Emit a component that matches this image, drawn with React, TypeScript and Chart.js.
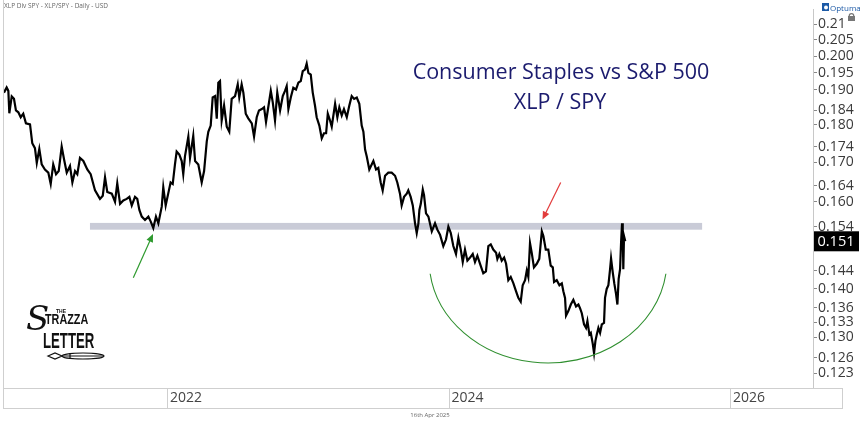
import React, { useEffect, useRef } from 'react';
import { Chart, registerables } from 'chart.js';

Chart.register(...registerables);

// decimal year of each observation
const years: number[] = [
  2020.841, 2020.860, 2020.872, 2020.879, 2020.896, 2020.912, 2020.926, 2020.943, 2020.960, 2020.978,
  2020.997, 2021.026, 2021.042, 2021.061, 2021.074, 2021.092, 2021.109, 2021.132, 2021.156, 2021.173,
  2021.191, 2021.211, 2021.230, 2021.251, 2021.268, 2021.287, 2021.310, 2021.327, 2021.346, 2021.362,
  2021.381, 2021.405, 2021.433, 2021.457, 2021.488, 2021.523, 2021.543, 2021.559, 2021.575, 2021.607,
  2021.630, 2021.646, 2021.666, 2021.689, 2021.713, 2021.732, 2021.749, 2021.772, 2021.788, 2021.803,
  2021.820, 2021.843, 2021.867, 2021.884, 2021.902, 2021.921, 2021.938, 2021.962, 2021.973, 2021.990,
  2022.008, 2022.025, 2022.040, 2022.056, 2022.068, 2022.087, 2022.104, 2022.115, 2022.127, 2022.151,
  2022.163, 2022.186, 2022.199, 2022.222, 2022.246, 2022.263, 2022.282, 2022.293, 2022.310, 2022.324,
  2022.341, 2022.353, 2022.364, 2022.376, 2022.388, 2022.405, 2022.424, 2022.442, 2022.459, 2022.483,
  2022.502, 2022.513, 2022.530, 2022.542, 2022.559, 2022.577, 2022.602, 2022.618, 2022.637, 2022.653,
  2022.673, 2022.689, 2022.703, 2022.719, 2022.737, 2022.751, 2022.767, 2022.783, 2022.803, 2022.822,
  2022.838, 2022.850, 2022.862, 2022.879, 2022.897, 2022.916, 2022.933, 2022.950, 2022.964, 2022.980,
  2022.992, 2023.004, 2023.021, 2023.035, 2023.051, 2023.063, 2023.082, 2023.099, 2023.115, 2023.130,
  2023.142, 2023.158, 2023.170, 2023.194, 2023.210, 2023.224, 2023.241, 2023.257, 2023.277, 2023.295,
  2023.312, 2023.329, 2023.348, 2023.366, 2023.383, 2023.395, 2023.407, 2023.419, 2023.437, 2023.454,
  2023.466, 2023.485, 2023.501, 2023.518, 2023.532, 2023.549, 2023.572, 2023.596, 2023.620, 2023.636,
  2023.655, 2023.667, 2023.684, 2023.703, 2023.714, 2023.731, 2023.746, 2023.762, 2023.774, 2023.786,
  2023.793, 2023.803, 2023.817, 2023.826, 2023.840, 2023.857, 2023.881, 2023.904, 2023.921, 2023.940,
  2023.963, 2023.982, 2023.999, 2024.016, 2024.034, 2024.053, 2024.070, 2024.087, 2024.101, 2024.117,
  2024.134, 2024.153, 2024.172, 2024.188, 2024.205, 2024.224, 2024.247, 2024.266, 2024.283, 2024.300,
  2024.318, 2024.338, 2024.347, 2024.361, 2024.378, 2024.395, 2024.409, 2024.425, 2024.442, 2024.461,
  2024.480, 2024.496, 2024.513, 2024.527, 2024.544, 2024.556, 2024.567, 2024.579, 2024.591, 2024.607,
  2024.627, 2024.645, 2024.663, 2024.674, 2024.691, 2024.709, 2024.726, 2024.741, 2024.750, 2024.769,
  2024.788, 2024.805, 2024.816, 2024.828, 2024.835, 2024.852, 2024.869, 2024.887, 2024.906, 2024.923,
  2024.935, 2024.947, 2024.963, 2024.977, 2024.987, 2025.001, 2025.011, 2025.025, 2025.034, 2025.044,
  2025.054, 2025.065, 2025.077, 2025.089, 2025.105, 2025.112, 2025.124, 2025.136, 2025.148, 2025.155,
  2025.167, 2025.178, 2025.190, 2025.200, 2025.209, 2025.219, 2025.226, 2025.233, 2025.238, 2025.242,
  2025.247, 2025.256,
];

// XLP / SPY ratio
const ratio: number[] = [
  0.1891, 0.1906, 0.1896, 0.1832, 0.1880, 0.1873, 0.1840, 0.1835, 0.1821, 0.1831,
  0.1804, 0.1801, 0.1750, 0.1737, 0.1698, 0.1735, 0.1694, 0.1681, 0.1673, 0.1644,
  0.1694, 0.1669, 0.1677, 0.1741, 0.1707, 0.1673, 0.1690, 0.1648, 0.1677, 0.1669,
  0.1711, 0.1703, 0.1681, 0.1669, 0.1628, 0.1607, 0.1615, 0.1661, 0.1624, 0.1620,
  0.1600, 0.1646, 0.1595, 0.1603, 0.1607, 0.1612, 0.1591, 0.1612, 0.1607, 0.1580,
  0.1564, 0.1556, 0.1564, 0.1552, 0.1537, 0.1564, 0.1548, 0.1588, 0.1636, 0.1591,
  0.1620, 0.1648, 0.1644, 0.1694, 0.1728, 0.1720, 0.1703, 0.1669, 0.1715, 0.1768,
  0.1711, 0.1770, 0.1703, 0.1694, 0.1648, 0.1677, 0.1755, 0.1781, 0.1798, 0.1877,
  0.1881, 0.1817, 0.1920, 0.1925, 0.1812, 0.1854, 0.1795, 0.1781, 0.1873, 0.1881,
  0.1915, 0.1877, 0.1915, 0.1891, 0.1831, 0.1818, 0.1804, 0.1768, 0.1821, 0.1840,
  0.1844, 0.1849, 0.1808, 0.1849, 0.1896, 0.1863, 0.1812, 0.1891, 0.1840, 0.1881,
  0.1896, 0.1910, 0.1844, 0.1877, 0.1905, 0.1900, 0.1920, 0.1925, 0.1954, 0.1959,
  0.1977, 0.1949, 0.1944, 0.1891, 0.1854, 0.1821, 0.1798, 0.1763, 0.1777, 0.1777,
  0.1831, 0.1812, 0.1795, 0.1859, 0.1821, 0.1849, 0.1826, 0.1844, 0.1821, 0.1854,
  0.1881, 0.1873, 0.1877, 0.1859, 0.1798, 0.1781, 0.1733, 0.1715, 0.1681, 0.1694,
  0.1703, 0.1681, 0.1685, 0.1648, 0.1628, 0.1665, 0.1673, 0.1673, 0.1665, 0.1648,
  0.1620, 0.1591, 0.1612, 0.1620, 0.1628, 0.1612, 0.1591, 0.1548, 0.1525, 0.1548,
  0.1580, 0.1595, 0.1630, 0.1616, 0.1572, 0.1564, 0.1529, 0.1548, 0.1533, 0.1521,
  0.1495, 0.1510, 0.1540, 0.1525, 0.1495, 0.1477, 0.1514, 0.1487, 0.1459, 0.1487,
  0.1462, 0.1469, 0.1477, 0.1459, 0.1473, 0.1455, 0.1434, 0.1438, 0.1495, 0.1499,
  0.1487, 0.1480, 0.1466, 0.1477, 0.1462, 0.1469, 0.1455, 0.1419, 0.1426, 0.1412,
  0.1395, 0.1381, 0.1373, 0.1408, 0.1419, 0.1440, 0.1426, 0.1502, 0.1480, 0.1447,
  0.1455, 0.1466, 0.1529, 0.1518, 0.1487, 0.1487, 0.1451, 0.1447, 0.1415, 0.1419,
  0.1408, 0.1412, 0.1395, 0.1381, 0.1344, 0.1354, 0.1367, 0.1377, 0.1363, 0.1367,
  0.1359, 0.1349, 0.1326, 0.1319, 0.1333, 0.1306, 0.1309, 0.1287, 0.1269, 0.1293,
  0.1306, 0.1319, 0.1309, 0.1326, 0.1329, 0.1381, 0.1400, 0.1408, 0.1443, 0.1467,
  0.1436, 0.1412, 0.1390, 0.1367, 0.1422, 0.1443, 0.1502, 0.1548, 0.1533, 0.1443,
  0.1518, 0.1506,
];

const yTickLabels: string[] = [
  '0.21', '0.205', '0.200', '0.195', '0.190', '0.184', '0.180', '0.174', '0.170',
  '0.164', '0.160', '0.154', '0.144', '0.140', '0.136', '0.133', '0.130', '0.126', '0.123',
];
const xTickYears: number[] = [2022, 2024, 2026];
const lastPriceLabel = '0.151';

const xMin = 2020.834;
const xMax = 2026.59;
const yMin = 0.1203;
const yMax = 0.2148;

// support band
const bandYears: number[] = [2021.452, 2025.802];
const bandValues: number[] = [0.1533, 0.1549];
// arrows: [fromYear, fromValue, toYear, toValue]
const greenArrow: number[] = [2021.760, 0.1424, 2021.900, 0.1523];
const redArrow: number[] = [2024.797, 0.1648, 2024.668, 0.1557];
// rounding-bottom arc
const arcCenter: number[] = [2024.707, 0.1463];
const arcHalfWidthYears = 0.845;
const arcBottomValue = 0.1250;
const arcEndValue = 0.1433;

const titleLines: string[] = ['Consumer Staples vs S&P 500', 'XLP / SPY'];
const headerText = 'XLP Div SPY - XLP/SPY - Daily - USD';
const footerText = '16th Apr 2025';

function drawArrow(ctx: CanvasRenderingContext2D, x0: number, y0: number, x1: number, y1: number, color: string) {
  const ang = Math.atan2(y1 - y0, x1 - x0);
  const hl = 8, hw = 3.5;
  ctx.save();
  ctx.strokeStyle = color;
  ctx.fillStyle = color;
  ctx.lineWidth = 1.2;
  ctx.beginPath();
  ctx.moveTo(x0, y0);
  ctx.lineTo(x1 - Math.cos(ang) * hl * 0.8, y1 - Math.sin(ang) * hl * 0.8);
  ctx.stroke();
  ctx.beginPath();
  ctx.moveTo(x1, y1);
  ctx.lineTo(x1 - Math.cos(ang) * hl - Math.sin(ang) * hw, y1 - Math.sin(ang) * hl + Math.cos(ang) * hw);
  ctx.lineTo(x1 - Math.cos(ang) * hl + Math.sin(ang) * hw, y1 - Math.sin(ang) * hl - Math.cos(ang) * hw);
  ctx.closePath();
  ctx.fill();
  ctx.restore();
}

const overlayPlugin = {
  id: 'overlay',
  beforeDatasetsDraw(chart: any) {
    const { ctx, scales } = chart;
    const x = scales.x, y = scales.y;
    const x0 = x.getPixelForValue(bandYears[0]);
    const x1 = x.getPixelForValue(bandYears[1]);
    const yTop = y.getPixelForValue(bandValues[1]);
    const yBot = y.getPixelForValue(bandValues[0]);
    ctx.save();
    ctx.fillStyle = '#c9cbd7';
    ctx.fillRect(x0, yTop, x1 - x0, yBot - yTop);
    ctx.restore();
  },
  afterDraw(chart: any) {
    const { ctx, chartArea, scales } = chart;
    const x = scales.x, y = scales.y;
    ctx.save();

    // frame lines
    ctx.strokeStyle = '#cfcfcf';
    ctx.lineWidth = 1;
    ctx.beginPath();
    ctx.moveTo(chartArea.left + 0.5, 0);
    ctx.lineTo(chartArea.left + 0.5, chartArea.bottom);
    ctx.stroke();
    ctx.strokeRect(chartArea.left + 0.5, chartArea.bottom + 0.5, 839, 20);
    xTickYears.forEach((v) => {
      const px = Math.round(x.getPixelForValue(v)) + 0.5;
      ctx.beginPath();
      ctx.moveTo(px, chartArea.bottom);
      ctx.lineTo(px, chartArea.bottom + 20);
      ctx.stroke();
    });

    // arc
    const cx = x.getPixelForValue(arcCenter[0]);
    const cy = y.getPixelForValue(arcCenter[1]);
    const rx = x.getPixelForValue(arcCenter[0] + arcHalfWidthYears) - cx;
    const ry = y.getPixelForValue(arcBottomValue) - cy;
    const endY = y.getPixelForValue(arcEndValue);
    const a = Math.asin(Math.max(-1, Math.min(1, (endY - cy) / ry)));
    ctx.strokeStyle = '#2f8f2f';
    ctx.lineWidth = 1.1;
    ctx.beginPath();
    ctx.ellipse(cx, cy, rx, ry, 0, a, Math.PI - a, false);
    ctx.stroke();

    // arrows
    drawArrow(ctx, x.getPixelForValue(greenArrow[0]), y.getPixelForValue(greenArrow[1]),
      x.getPixelForValue(greenArrow[2]), y.getPixelForValue(greenArrow[3]), '#2e9a2e');
    drawArrow(ctx, x.getPixelForValue(redArrow[0]), y.getPixelForValue(redArrow[1]),
      x.getPixelForValue(redArrow[2]), y.getPixelForValue(redArrow[3]), '#e23b3b');

    // title
    ctx.fillStyle = '#1b1b6e';
    ctx.textAlign = 'center';
    ctx.textBaseline = 'alphabetic';
    ctx.font = '21.5px "Open Sans"';
    ctx.fillText(titleLines[0], 561, 79);
    ctx.fillText(titleLines[1], 560, 109);

    // header + footer
    ctx.fillStyle = '#666';
    ctx.textAlign = 'left';
    ctx.font = '6.5px "Open Sans"';
    ctx.fillText(headerText, 4, 8);
    ctx.textAlign = 'center';
    ctx.font = '6px "Open Sans"';
    ctx.fillText(footerText, 430, 417);

    // Optuma logo
    ctx.fillStyle = '#1d5aa6';
    ctx.beginPath();
    ctx.rect(822, 3, 7, 8);
    ctx.fill();
    ctx.fillStyle = '#fff';
    ctx.beginPath();
    ctx.arc(826, 7.5, 2, 0, Math.PI * 2);
    ctx.fill();
    ctx.fillStyle = '#1d5aa6';
    ctx.textAlign = 'left';
    ctx.font = '8px "Open Sans"';
    ctx.fillText('Optuma', 830, 10.5);

    // lock icon
    ctx.fillStyle = '#777';
    ctx.fillRect(848, 16, 7, 5);
    ctx.strokeStyle = '#777';
    ctx.lineWidth = 1.2;
    ctx.beginPath();
    ctx.arc(851.5, 16, 2.3, Math.PI, 0);
    ctx.stroke();

    // last price label
    const lastVal = ratio[ratio.length - 1];
    const ly = y.getPixelForValue(lastVal);
    ctx.fillStyle = '#000';
    ctx.fillRect(chartArea.right + 1, ly - 10, 45, 20);
    ctx.fillStyle = '#fff';
    ctx.textAlign = 'center';
    ctx.textBaseline = 'middle';
    ctx.font = '14.5px "Open Sans"';
    ctx.fillText(lastPriceLabel, chartArea.right + 23, ly + 0.5);

    // Strazza Letter logo
    ctx.fillStyle = '#111';
    ctx.textBaseline = 'alphabetic';
    ctx.textAlign = 'left';
    ctx.font = 'italic 34px "DejaVu Serif"';
    ctx.fillText('S', 26, 330);
    ctx.font = 'bold 5px "Liberation Sans"';
    ctx.fillText('THE', 56, 313);
    ctx.save();
    ctx.translate(45, 324);
    ctx.scale(0.72, 1);
    ctx.font = 'bold 15px "Liberation Sans"';
    ctx.fillText('TRAZZA', 0, 0);
    ctx.restore();
    ctx.save();
    ctx.translate(43, 348);
    ctx.scale(0.6, 1);
    ctx.font = 'bold 22px "Liberation Sans"';
    ctx.fillText('LETTER', 0, 0);
    ctx.restore();
    // pen
    ctx.strokeStyle = '#111';
    ctx.lineWidth = 1.2;
    ctx.beginPath();
    ctx.moveTo(48, 356);
    ctx.lineTo(55, 353);
    ctx.lineTo(62, 356);
    ctx.lineTo(55, 359);
    ctx.closePath();
    ctx.stroke();
    ctx.beginPath();
    ctx.ellipse(83, 356, 21, 3, 0, 0, Math.PI * 2);
    ctx.stroke();
    ctx.beginPath();
    ctx.moveTo(62, 356);
    ctx.lineTo(104, 356);
    ctx.stroke();
    ctx.beginPath();
    ctx.moveTo(70, 353);
    ctx.lineTo(70, 359);
    ctx.stroke();

    ctx.restore();
  },
};

export default function App() {
  const canvasRef = useRef<HTMLCanvasElement | null>(null);

  useEffect(() => {
    if (!canvasRef.current) return;
    const points = years.map((yr, i) => ({ x: yr, y: ratio[i] }));
    const chart = new Chart(canvasRef.current, {
      type: 'line',
      data: {
        datasets: [
          {
            data: points,
            borderColor: '#000',
            borderWidth: 2.2,
            pointRadius: 0,
            tension: 0,
            fill: false,
          },
        ],
      },
      options: {
        animation: false,
        responsive: false,
        devicePixelRatio: 1,
        parsing: false as any,
        layout: { padding: { left: 3, top: 2, right: 0, bottom: 15 } },
        plugins: {
          legend: { display: false },
          tooltip: { enabled: false },
          title: { display: false },
        },
        scales: {
          x: {
            type: 'linear',
            min: xMin,
            max: xMax,
            grid: { display: false, drawTicks: false },
            border: { display: true, color: '#cfcfcf' },
            afterBuildTicks: (scale: any) => {
              scale.ticks = xTickYears.map((v) => ({ value: v }));
            },
            afterFit: (scale: any) => {
              scale.height = 20;
            },
            ticks: {
              autoSkip: false,
              maxRotation: 0,
              align: 'start',
              labelOffset: 3,
              padding: 2,
              color: '#444',
              font: { family: '"Open Sans"', size: 14 },
              callback: (v: any) => String(v),
            },
          },
          y: {
            type: 'logarithmic',
            position: 'right',
            min: yMin,
            max: yMax,
            grid: { display: true, drawOnChartArea: false, drawTicks: true, tickLength: 4, color: '#888' },
            border: { display: true, color: '#c8c8c8' },
            afterBuildTicks: (scale: any) => {
              scale.ticks = yTickLabels.map((s) => ({ value: parseFloat(s) }));
            },
            afterFit: (scale: any) => {
              scale.width = 47;
            },
            ticks: {
              autoSkip: false,
              padding: 1,
              color: '#3a3a3a',
              font: { family: '"Open Sans"', size: 14 },
              callback: (_v: any, i: number) => yTickLabels[i],
            },
          },
        },
      },
      plugins: [overlayPlugin],
    });
    return () => chart.destroy();
  }, []);

  return (
    <div style={{ position: 'absolute', left: 0, top: 0, width: 860, height: 423, background: '#fff' }}>
      <canvas ref={canvasRef} width={860} height={423} style={{ display: 'block' }} />
    </div>
  );
}
